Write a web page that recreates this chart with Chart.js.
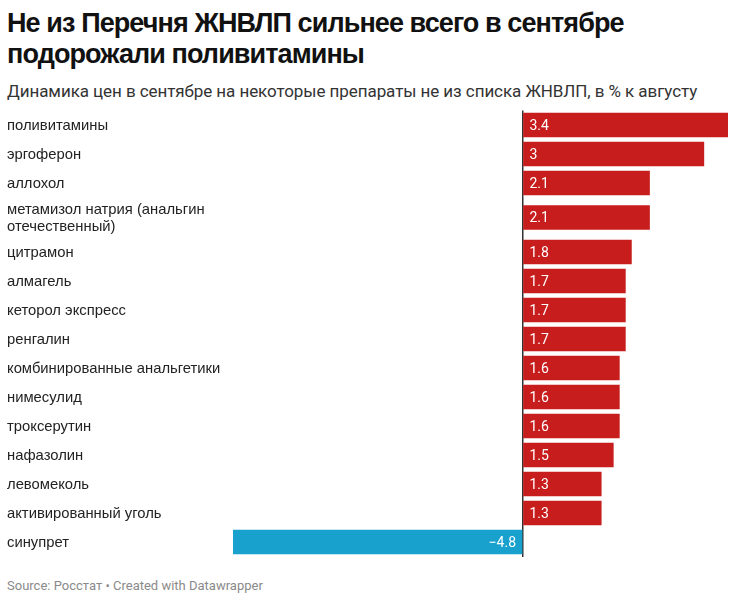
<!DOCTYPE html>
<html>
<head>
<meta charset="utf-8">
<script src="https://cdn.jsdelivr.net/npm/chart.js@4"></script>
<style>
  body { margin: 0; background: #fff; font-family: Roboto, sans-serif; }
  #title { position: absolute; left: 7px; top: 8px; width: 640px; font-family: "Liberation Sans", Arial, sans-serif; font-size: 27px; font-weight: 700; line-height: 31px; color: #111; letter-spacing: -0.9px; }
  #subtitle { position: absolute; left: 7px; top: 80px; font-size: 17px; line-height: 22px; color: #333; letter-spacing: -0.07px; }
  #wrap { position: absolute; left: 0; top: 108px; width: 736px; height: 452px; }
  #footer { position: absolute; left: 7px; top: 578px; font-size: 13px; color: #8a8a8a; }
</style>
</head>
<body>
<div id="title">Не из Перечня ЖНВЛП сильнее всего в сентябре подорожали поливитамины</div>
<div id="subtitle">Динамика цен в сентябре на некоторые препараты не из списка ЖНВЛП, в % к августу</div>
<div id="wrap"><canvas id="chart"></canvas></div>
<div id="footer">Source: Росстат • Created with Datawrapper</div>
<script>
const drugs = [
    'поливитамины', 'эргоферон', 'аллохол',
    ['метамизол натрия (анальгин', 'отечественный)'],
    'цитрамон', 'алмагель', 'кеторол экспресс', 'ренгалин',
    'комбинированные анальгетики', 'нимесулид', 'троксерутин',
    'нафазолин', 'левомеколь', 'активированный уголь', 'синупрет'
];
const changes = [3.4, 3, 2.1, 2.1, 1.8, 1.7, 1.7, 1.7, 1.6, 1.6, 1.6, 1.5, 1.3, 1.3, -4.8];

const RED = '#c71e1d';
const BLUE = '#18a1cd';
const ROW = 29;       // row height for a one-line label
const EXTRA_LINE = 11; // extra height per additional label line

// row centres follow the number of label lines, like the original table layout
const lineCounts = drugs.map(d => Array.isArray(d) ? d.length : 1);
const rowHeights = lineCounts.map(n => ROW + (n - 1) * EXTRA_LINE);
const rowCentres = [];
let acc = 0;
rowHeights.forEach(h => { rowCentres.push(acc + h / 2); acc += h; });
const totalHeight = acc;

const points = changes.map((v, i) => ({ x: v, y: rowCentres[i] }));

// category names on the left, values inside the bars
const labelsPlugin = {
    id: 'rowLabels',
    afterDatasetsDraw(chart) {
        const ctx = chart.ctx;
        const yScale = chart.scales.y;
        const meta = chart.getDatasetMeta(0);
        ctx.save();
        ctx.textBaseline = 'middle';
        drugs.forEach((name, i) => {
            const y = yScale.getPixelForValue(rowCentres[i]);
            const lines = Array.isArray(name) ? name : [name];
            ctx.font = '14.8px "Liberation Sans", Arial, sans-serif';
            ctx.fillStyle = '#222';
            ctx.textAlign = 'left';
            lines.forEach((line, j) => {
                ctx.fillText(line, 7, y + 1 + (j - (lines.length - 1) / 2) * 17);
            });
            const bar = meta.data[i];
            const v = changes[i];
            ctx.font = '14px Roboto, sans-serif';
            ctx.fillStyle = '#fff';
            const txt = String(v).replace('-', '\u2212');
            if (v >= 0) {
                ctx.textAlign = 'left';
                ctx.fillText(txt, bar.base + 6, y + 1);
            } else {
                ctx.textAlign = 'right';
                ctx.fillText(txt, bar.base - 6, y + 1);
            }
        });
        ctx.restore();
    }
};

new Chart(document.getElementById('chart'), {
    type: 'bar',
    data: {
        datasets: [{
            data: points,
            backgroundColor: changes.map(v => v < 0 ? BLUE : RED),
            barThickness: 24
        }]
    },
    options: {
        indexAxis: 'y',
        responsive: true,
        maintainAspectRatio: false,
        animation: false,
        layout: { padding: { left: 233, right: 8, top: 2.5, bottom: 452 - 2.5 - totalHeight } },
        plugins: {
            legend: { display: false },
            tooltip: { enabled: false }
        },
        scales: {
            x: {
                type: 'linear',
                min: -4.8,
                max: 3.4,
                z: 1,
                border: { display: false },
                ticks: { display: false, stepSize: 1 },
                grid: {
                    drawTicks: false,
                    lineWidth: 1.5,
                    color: c => c.tick && c.tick.value === 0 ? '#333' : 'rgba(0,0,0,0)'
                }
            },
            y: {
                type: 'linear',
                display: false,
                offset: false,
                reverse: true,
                min: 0,
                max: totalHeight
            }
        }
    },
    plugins: [labelsPlugin]
});
</script>
</body>
</html>
